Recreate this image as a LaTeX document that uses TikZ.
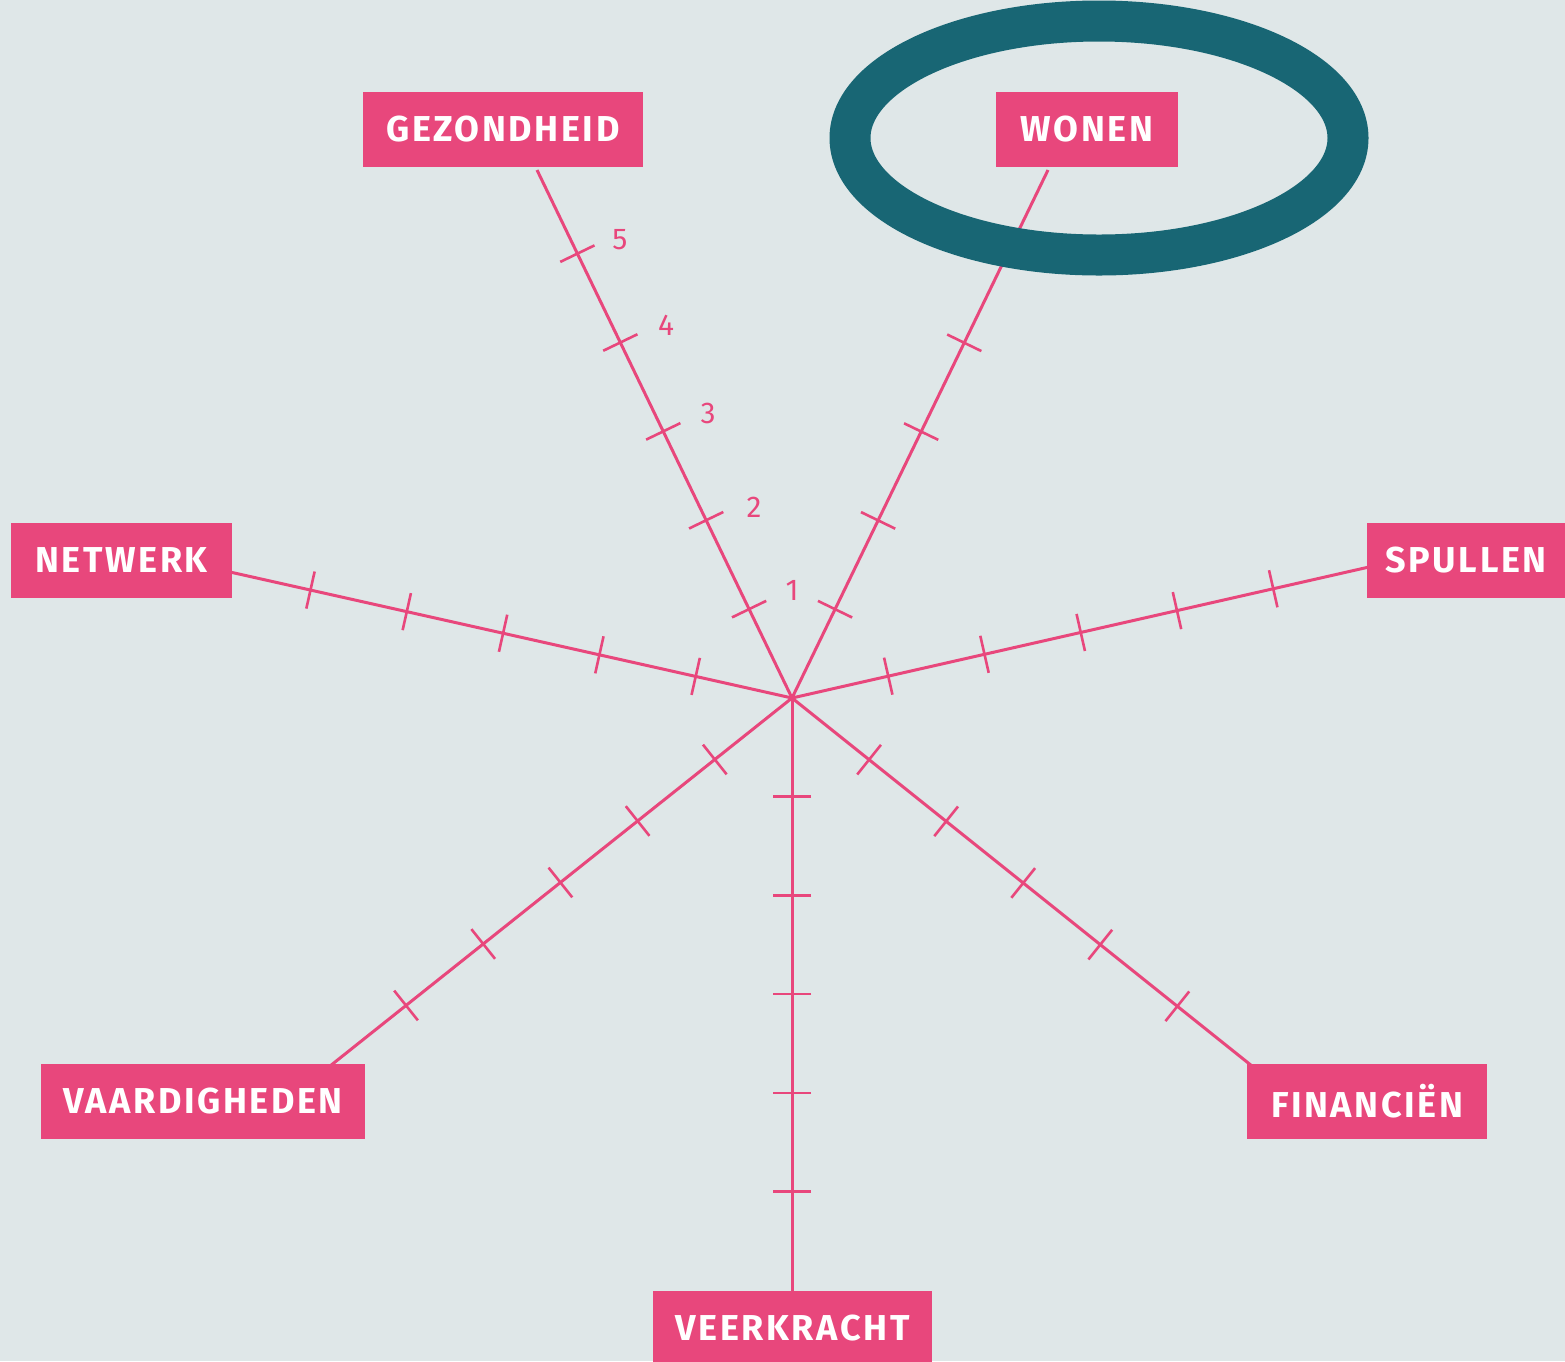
\documentclass[tikz,border=0pt]{standalone}
\usepackage{fontspec}
\setmainfont{Fira Sans}
\newfontfamily\labelfont{Fira Sans}[LetterSpace=7.2]
\usetikzlibrary{calc}
\definecolor{bg}{HTML}{DFE7E8}
\definecolor{pinkc}{HTML}{E8477C}
\definecolor{tealc}{HTML}{186674}
\begin{document}
\begin{tikzpicture}[x=1pt,y=-1pt,
  axisline/.style={draw=pinkc,line width=3pt},
  tickline/.style={draw=pinkc,line width=2.6pt},
  labelbox/.style={fill=pinkc,text=white,font=\labelfont\fontsize{36}{40}\selectfont\bfseries,minimum height=75pt,inner sep=0pt,anchor=center},
  numlabel/.style={text=pinkc,font=\fontsize{30}{32}\selectfont,inner sep=0pt},
  ring/.style={draw=tealc,line width=41pt}]
\fill[bg] (0,0) rectangle (1565,1361);
\useasboundingbox (0,0) rectangle (1565,1361);
\coordinate (c) at (792,698);
\coordinate (eG) at (537,170);
\coordinate (eW) at (1048,170);
\coordinate (eN) at (230,572);
\coordinate (eS) at (1369,567);
\coordinate (eV) at (330,1066);
\coordinate (eF) at (1252,1066);
\coordinate (eK) at (792,1292);
\foreach \e in {eG,eW,eN,eS,eV,eF,eK}{
  \draw[axisline] (c) -- (\e);
  \foreach \k in {1,...,5}{
    \coordinate (p) at ($(c)!{\k*98.7pt}!(\e)$);
    \draw[tickline] ($(p)!19pt!90:(\e)$) -- ($(p)!19pt!-90:(\e)$);
  }
}
\node[labelbox,minimum width=280pt] (gez) at (503,129.5) {GEZONDHEID};
\node[labelbox,minimum width=182pt] (won) at (1087,129.5) {WONEN};
\node[labelbox,minimum width=221pt] (net) at (121.5,560) {NETWERK};
\node[labelbox,minimum width=198pt] (spu) at (1466,560) {SPULLEN};
\node[labelbox,minimum width=324pt] (vaa) at (203,1101.5) {VAARDIGHEDEN};
\node[labelbox,minimum width=240pt] (fin) at (1367,1101.5) {FINANCIËN};
\node[labelbox,minimum width=279pt] (vee) at (792.5,1328) {VEERKRACHT};
\node[numlabel] (n5) at (620,240) {5};
\node[numlabel] (n4) at (666,325) {4};
\node[numlabel] (n3) at (708,413) {3};
\node[numlabel] (n2) at (754,507) {2};
\node[numlabel] (n1) at (792,590) {1};
\draw[ring] (1099,138) ellipse [x radius=249pt, y radius=117pt];
\end{tikzpicture}
\end{document}
